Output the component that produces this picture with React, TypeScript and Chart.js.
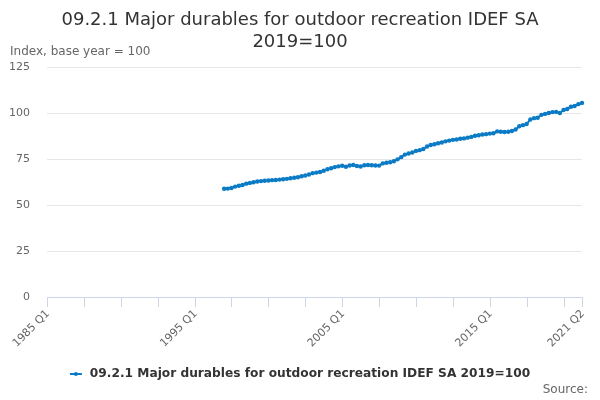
import React, { useEffect, useRef } from "react";
import { Chart, registerables } from "chart.js";

Chart.register(...registerables);

// Quarterly categories 1985 Q1 .. 2021 Q2
const firstYear = 1985;
const lastYear = 2021;
const lastQuarter = 2;
const categories: string[] = [];
for (let y = firstYear; y <= lastYear; y++) {
  for (let q = 1; q <= 4; q++) {
    if (y === lastYear && q > lastQuarter) break;
    categories.push(`${y} Q${q}`);
  }
}

// Series starts at 1997 Q1
const seriesStart = "1997 Q1";
const seriesValues: number[] = [
  58.8, 58.9, 59.2, 60.0, 60.5, 60.9, 61.6, 62.0, 62.4, 62.8,
  63.0, 63.2, 63.3, 63.5, 63.6, 63.8, 64.0, 64.2, 64.5, 64.8,
  65.1, 65.6, 66.0, 66.6, 67.3, 67.6, 67.9, 68.6, 69.4, 70.0,
  70.6, 71.0, 71.3, 70.8, 71.5, 71.7, 71.2, 70.9, 71.6, 71.7,
  71.6, 71.5, 71.4, 72.6, 73.0, 73.2, 73.8, 74.8, 76.0, 77.4,
  78.0, 78.5, 79.4, 79.8, 80.4, 81.8, 82.6, 83.0, 83.6, 84.0,
  84.6, 85.0, 85.4, 85.6, 86.0, 86.2, 86.6, 87.0, 87.6, 87.9,
  88.3, 88.5, 88.8, 89.0, 90.0, 89.8, 89.7, 89.8, 90.2, 91.0,
  92.8, 93.4, 94.0, 96.5, 97.2, 97.4, 99.0, 99.5, 100.0, 100.5,
  100.6, 100.0, 101.6, 102.2, 103.4, 103.8, 104.8, 105.5,
];

const yTicks = [0, 25, 50, 75, 100, 125];
const xLabelShown = ["1985 Q1", "1995 Q1", "2005 Q1", "2015 Q1", "2021 Q2"];
const xTickMarkEvery = 10;

const titleLines = ["09.2.1 Major durables for outdoor recreation IDEF SA", "2019=100"];
const seriesName = "09.2.1 Major durables for outdoor recreation IDEF SA 2019=100";
const yAxisTitle = "Index, base year = 100";
const sourceText = "Source:";

const COLOR = "#0b7bc5";
const FONT = '"DejaVu Sans", sans-serif';

export default function App() {
  const ref = useRef<HTMLCanvasElement | null>(null);

  useEffect(() => {
    document.body.style.margin = "0";
    const startIdx = categories.indexOf(seriesStart);
    const data: (number | null)[] = categories.map((_, i) =>
      i >= startIdx && i - startIdx < seriesValues.length ? seriesValues[i - startIdx] : null
    );
    const lastIdx = categories.length - 1;
    const tickIdx: number[] = [];
    for (let i = 0; i < lastIdx; i += xTickMarkEvery) {
      if (lastIdx - i >= xTickMarkEvery / 2) tickIdx.push(i);
    }
    tickIdx.push(lastIdx);

    const decor = {
      id: "decor",
      afterDraw(chart: any) {
        const ctx = chart.ctx;
        const xs = chart.scales.x;
        ctx.save();
        // tick marks
        ctx.strokeStyle = "#ccd6eb";
        ctx.lineWidth = 1;
        tickIdx.forEach((i) => {
          const px = Math.round(xs.getPixelForValue(i)) + 0.5;
          ctx.beginPath();
          ctx.moveTo(px, xs.top);
          ctx.lineTo(px, xs.top + 10);
          ctx.stroke();
        });
        // rotated x labels
        ctx.fillStyle = "#666666";
        ctx.font = `11px ${FONT}`;
        ctx.textAlign = "right";
        ctx.textBaseline = "middle";
        xLabelShown.forEach((lab) => {
          const i = categories.indexOf(lab);
          const px = xs.getPixelForValue(i);
          ctx.save();
          ctx.translate(px + 1, xs.top + 15);
          ctx.rotate(-Math.PI / 4);
          ctx.fillText(lab, 0, 0);
          ctx.restore();
        });
        // title
        ctx.fillStyle = "#333333";
        ctx.font = `18px ${FONT}`;
        ctx.textAlign = "center";
        ctx.textBaseline = "alphabetic";
        ctx.fillText(titleLines[0], 300, 25);
        ctx.fillText(titleLines[1], 300, 47);
        // y axis title
        ctx.fillStyle = "#666666";
        ctx.font = `12px ${FONT}`;
        ctx.textAlign = "left";
        ctx.textBaseline = "middle";
        ctx.fillText(yAxisTitle, 10, 52);
        // source
        ctx.textAlign = "right";
        ctx.fillText(sourceText, 588, 390);
        // legend
        ctx.font = `bold 12.2px ${FONT}`;
        const tw = ctx.measureText(seriesName).width;
        const total = 12 + 8 + tw;
        const sx = 300 - total / 2;
        const ly = 374;
        ctx.strokeStyle = COLOR;
        ctx.lineWidth = 2;
        ctx.beginPath();
        ctx.moveTo(sx, ly);
        ctx.lineTo(sx + 12, ly);
        ctx.stroke();
        ctx.fillStyle = COLOR;
        ctx.beginPath();
        ctx.arc(sx + 6, ly, 2, 0, Math.PI * 2);
        ctx.fill();
        ctx.fillStyle = "#333333";
        ctx.textAlign = "left";
        ctx.textBaseline = "middle";
        ctx.fillText(seriesName, sx + 20, ly);
        ctx.restore();
      },
    };

    const chart = new Chart(ref.current!, {
      type: "line",
      data: {
        labels: categories,
        datasets: [
          {
            label: seriesName,
            data,
            borderColor: COLOR,
            backgroundColor: COLOR,
            borderWidth: 2,
            pointRadius: 2.2,
            pointBackgroundColor: COLOR,
            pointBorderWidth: 0,
            tension: 0,
            spanGaps: false,
          },
        ],
      },
      options: {
        animation: false,
        responsive: false,
        maintainAspectRatio: false,
        layout: { padding: { top: 67, right: 18, left: 0, bottom: 0 } },
        plugins: {
          legend: { display: false },
          title: { display: false },
          tooltip: { enabled: false },
        },
        scales: {
          x: {
            type: "category",
            offset: false,
            grid: { display: false, drawTicks: false, tickLength: 0 },
            border: { display: true, color: "#ccd6eb", width: 1 },
            ticks: { display: false },
            afterFit: (s: any) => {
              s.height = 103;
              s.paddingLeft = 0;
              s.paddingRight = 0;
            },
          },
          y: {
            min: yTicks[0],
            max: yTicks[yTicks.length - 1],
            afterBuildTicks: (s: any) => {
              s.ticks = yTicks.map((v) => ({ value: v }));
            },
            grid: { color: "#e6e6e6", drawTicks: false, lineWidth: 1 },
            border: { display: false },
            ticks: {
              padding: 17,
              color: "#666666",
              font: { family: FONT, size: 11 },
            },
            afterFit: (s: any) => {
              s.width = 47;
            },
          },
        },
      },
      plugins: [decor],
    });
    return () => chart.destroy();
  }, []);

  return (
    <div style={{ width: 600, height: 400 }}>
      <canvas ref={ref} width={600} height={400} style={{ display: "block" }} />
    </div>
  );
}
